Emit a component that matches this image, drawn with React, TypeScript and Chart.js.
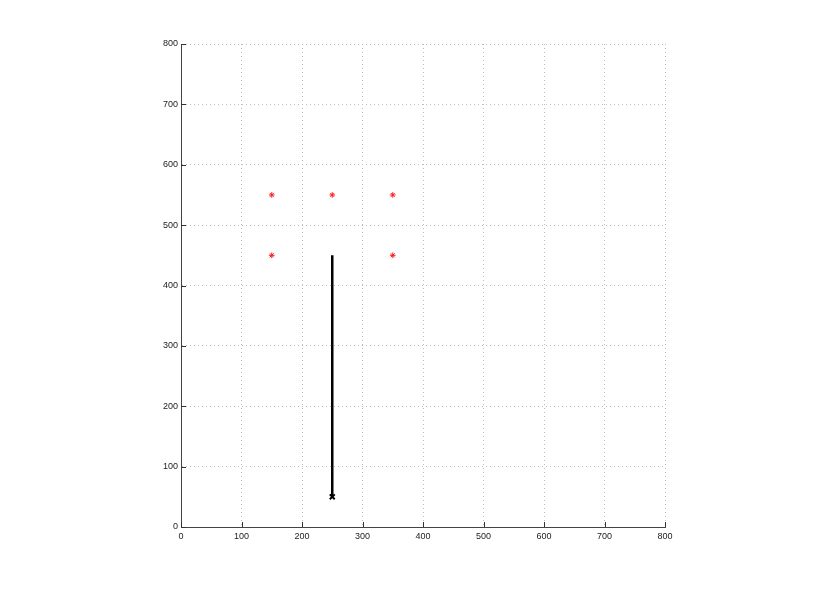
import React, { useEffect, useRef } from "react";
import { Chart, registerables } from "chart.js";

Chart.register(...registerables);

const starX = [150, 250, 350, 150, 350];
const starY = [550, 550, 550, 450, 450];
const lineX = [250, 250];
const lineY = [450, 50];
const endX = [250];
const endY = [50];
const tickValues = [0, 100, 200, 300, 400, 500, 600, 700, 800];

const toPoints = (xs: number[], ys: number[]) => xs.map((x, i) => ({ x, y: ys[i] }));

const inwardTicks = {
  id: "inwardTicks",
  afterDatasetsDraw(chart: any) {
    const { ctx, chartArea, scales } = chart;
    ctx.save();
    ctx.strokeStyle = "#333";
    ctx.lineWidth = 1;
    const len = 5;
    tickValues.forEach((v) => {
      const px = Math.round(scales.x.getPixelForValue(v)) + 0.5;
      ctx.beginPath();
      ctx.moveTo(px, chartArea.bottom);
      ctx.lineTo(px, chartArea.bottom - len);
      ctx.stroke();
      const py = Math.round(scales.y.getPixelForValue(v)) + 0.5;
      ctx.beginPath();
      ctx.moveTo(chartArea.left, py);
      ctx.lineTo(chartArea.left + len, py);
      ctx.stroke();
    });
    ctx.restore();
  },
};

export default function App() {
  const ref = useRef<HTMLCanvasElement>(null);
  useEffect(() => {
    if (!ref.current) return;
    const font = { family: "'Liberation Sans', Arial, sans-serif", size: 9 };
    const chart = new Chart(ref.current, {
      type: "scatter",
      data: {
        datasets: [
          {
            data: toPoints(lineX, lineY),
            showLine: true,
            borderColor: "#000",
            borderWidth: 2.5,
            pointRadius: 0,
          },
          {
            data: toPoints(endX, endY),
            pointStyle: "crossRot",
            pointRadius: 3.5,
            borderColor: "#000",
            borderWidth: 2,
            backgroundColor: "#000",
          },
          {
            data: toPoints(starX, starY),
            pointStyle: "star",
            pointRadius: 2.8,
            borderColor: "#ff1a1a",
            borderWidth: 1,
            backgroundColor: "#ff1a1a",
          },
        ],
      },
      options: {
        responsive: false,
        animation: false,
        layout: { padding: { top: 44, right: 152, left: 0, bottom: 0 } },
        plugins: { legend: { display: false }, tooltip: { enabled: false } },
        scales: {
          x: {
            type: "linear",
            min: 0,
            max: 800,
            afterFit: (s: any) => {
              s.height = 67;
            },
            afterBuildTicks: (s: any) => {
              s.ticks = tickValues.map((v) => ({ value: v }));
            },
            ticks: { font, color: "#222", padding: 4, maxRotation: 0 },
            grid: { color: "#bdbdbd", lineWidth: 1, drawTicks: false },
            border: { display: true, color: "#444", width: 1, dash: [1, 3] },
          },
          y: {
            type: "linear",
            min: 0,
            max: 800,
            afterFit: (s: any) => {
              s.width = 181;
            },
            afterBuildTicks: (s: any) => {
              s.ticks = tickValues.map((v) => ({ value: v }));
            },
            ticks: { font, color: "#222", padding: 3 },
            grid: { color: "#bdbdbd", lineWidth: 1, drawTicks: false },
            border: { display: true, color: "#444", width: 1, dash: [1, 3] },
          },
        },
      },
      plugins: [inwardTicks],
    });
    return () => chart.destroy();
  }, []);
  return (
    <div style={{ position: "fixed", left: 0, top: 0, width: 817, height: 594, background: "#fff" }}>
      <canvas ref={ref} width={817} height={594} />
    </div>
  );
}
